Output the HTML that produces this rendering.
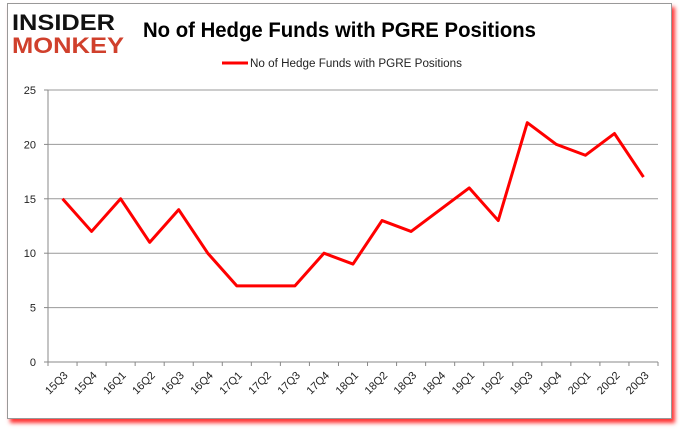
<!DOCTYPE html>
<html><head><meta charset="utf-8"><style>
body{margin:0;background:#fff;width:680px;height:433px;overflow:hidden;font-family:"Liberation Sans",sans-serif}
#card{position:absolute;left:7px;top:3px;width:663px;height:414px;border:1px solid #999;background:#fff;box-shadow:3px 4px 4px rgba(255,0,0,0.8)}
</style></head><body>
<div id="card"></div>
<svg id="c" width="680" height="433" style="position:absolute;left:0;top:0">
<g font-family="Liberation Sans" font-weight="bold">
<text x="12" y="30" font-size="22" fill="#111" textLength="103" lengthAdjust="spacingAndGlyphs">INSIDER</text>
<text x="12" y="53" font-size="22" fill="#d0402c" textLength="112" lengthAdjust="spacingAndGlyphs">MONKEY</text>
</g>
<text x="143" y="37" font-size="21" font-weight="bold" fill="#000" textLength="393" lengthAdjust="spacingAndGlyphs">No of Hedge Funds with PGRE Positions</text>
<g>
<line x1="222" y1="63" x2="248" y2="63" stroke="red" stroke-width="3"/>
<text x="250" y="67" font-size="11.5" fill="#222" textLength="212" lengthAdjust="spacingAndGlyphs">No of Hedge Funds with PGRE Positions</text>
</g>
<g id="grid"></g><g id="axes"></g><g id="series"></g>
</svg>
<script>
const categories=["15Q3","15Q4","16Q1","16Q2","16Q3","16Q4","17Q1","17Q2","17Q3","17Q4","18Q1","18Q2","18Q3","18Q4","19Q1","19Q2","19Q3","19Q4","20Q1","20Q2","20Q3"];
const values=[15,12,15,11,14,10,7,7,7,10,9,13,12,14,16,13,22,20,19,21,17];
const yTicks=[0,5,10,15,20,25];
const L=48,R=658,T=90,B=362,yMax=25;
const ns="http://www.w3.org/2000/svg";
const slot=(R-L)/categories.length;
const xs=i=>L+slot*(i+0.5);
const ys=v=>B-(B-T)*v/yMax;
function mk(t,a,p){const e=document.createElementNS(ns,t);for(const k in a)e.setAttribute(k,a[k]);p.appendChild(e);return e;}
const grid=document.getElementById('grid'),axes=document.getElementById('axes'),series=document.getElementById('series');
yTicks.forEach(v=>{
 const g=mk('line',{x1:L,x2:R,y1:ys(v),y2:ys(v),stroke:v===0?'#888':'#999','stroke-width':1},grid);
 
 
 mk('line',{x1:L-4,x2:L,y1:ys(v),y2:ys(v),stroke:'#888'},axes);
 const t=mk('text',{x:L-12,y:ys(v)+4,'font-size':11,'text-anchor':'end',fill:'#222'},axes);
 t.textContent=v;
 
 
});
mk('line',{x1:L,x2:L,y1:T,y2:B,stroke:'#888'},axes);
categories.forEach((c,i)=>{
 const x=L+slot*i;
 mk('line',{x1:x,x2:x,y1:B,y2:B+4,stroke:'#888'},axes);
 const t=mk('text',{x:xs(i)+6,y:B+14,'font-size':11,'text-anchor':'end',fill:'#222',transform:`rotate(-45 ${xs(i)+6} ${B+14})`},axes);
 t.textContent=c;
 
 
});
mk('line',{x1:R,x2:R,y1:B,y2:B+4,stroke:'#888'},axes);
const p=mk('polyline',{points:values.map((v,i)=>xs(i)+','+ys(v)).join(' '),fill:'none',stroke:'red','stroke-width':3,'stroke-linejoin':'round'},series);


</script>
</body></html>
